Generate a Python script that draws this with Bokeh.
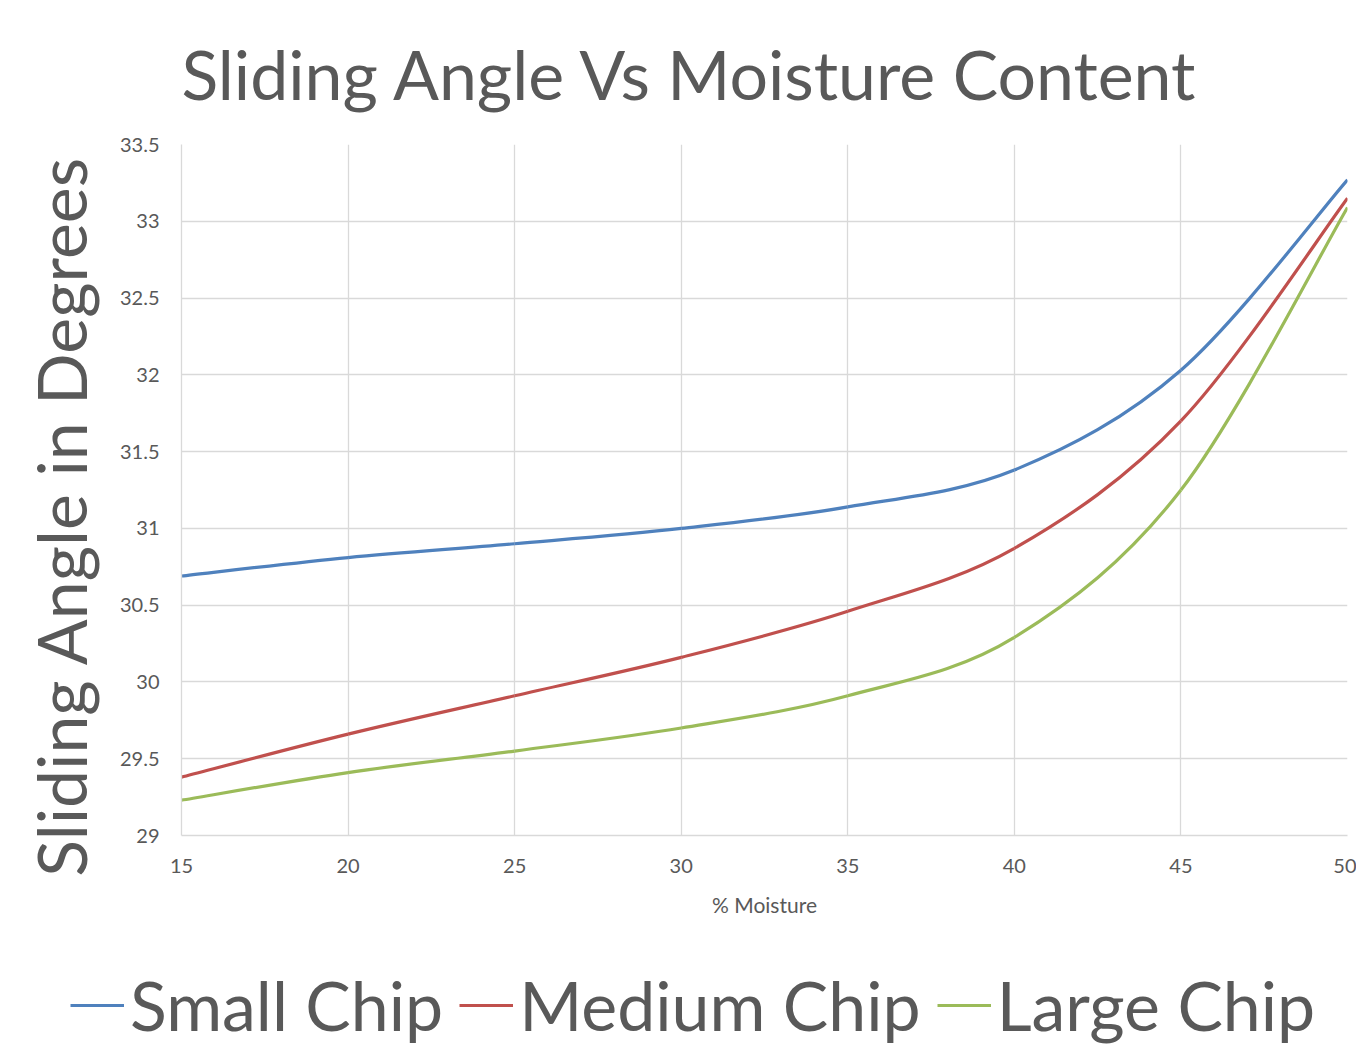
import numpy as np
from bokeh.plotting import figure
from bokeh.layouts import column
from bokeh.models import ColumnDataSource, Legend, LegendItem, Range1d, FixedTicker
from bokeh.embed import file_html
from bokeh.resources import INLINE

# ---- data ----
moisture = [15, 20, 25, 30, 35, 40, 45, 50]
small_chip = [30.69, 30.81, 30.90, 31.00, 31.14, 31.38, 32.03, 33.27]
medium_chip = [29.38, 29.66, 29.91, 30.16, 30.46, 30.87, 31.70, 33.15]
large_chip = [29.23, 29.41, 29.55, 29.70, 29.91, 30.29, 31.25, 33.09]
series_names = ["Small Chip", "Medium Chip", "Large Chip"]
x_ticks = [15, 20, 25, 30, 35, 40, 45, 50]
y_ticks = [29, 29.5, 30, 30.5, 31, 31.5, 32, 32.5, 33, 33.5]
y_tick_labels = ["29", "29.5", "30", "30.5", "31", "31.5", "32", "32.5", "33", "33.5"]

COLORS = ["#4F81BD", "#C0504D", "#9BBB59"]
TEXT = "#595959"
GRID = "#D9D9D9"
FONT = "Lato"


def smooth_source(x, y):
    """Bezier segments through the data points (Excel-style smoothed line)."""
    x = np.asarray(x, float)
    y = np.asarray(y, float)
    n = len(x)
    xp = np.concatenate([[x[0]], x, [x[-1]]])
    yp = np.concatenate([[y[0]], y, [y[-1]]])
    return ColumnDataSource(dict(
        x0=x[:-1], y0=y[:-1], x1=x[1:], y1=y[1:],
        cx0=x[:-1] + (xp[2:n + 1] - xp[0:n - 1]) / 6.0,
        cy0=y[:-1] + (yp[2:n + 1] - yp[0:n - 1]) / 6.0,
        cx1=x[1:] - (xp[3:n + 2] - xp[1:n]) / 6.0,
        cy1=y[1:] - (yp[3:n + 2] - yp[1:n]) / 6.0,
    ))


p = figure(frame_width=1166, frame_height=691, output_backend="svg", toolbar_location=None,
           x_range=Range1d(15, 50), y_range=Range1d(29, 33.5),
           min_border_left=181, min_border_right=9, min_border_top=144,
           min_border_bottom=100)
p.frame_align = False
p.outline_line_color = None
p.background_fill_color = "white"
p.border_fill_color = "white"

p.title.text = "Sliding Angle Vs Moisture Content"
p.title.text_font = FONT
p.title.text_font_size = "68px"
p.title.text_font_style = "normal"
p.title.text_color = TEXT
p.title.align = "left"
p.title.offset = 0
p.title.standoff = 61

p.xaxis.ticker = FixedTicker(ticks=x_ticks)
p.yaxis.ticker = FixedTicker(ticks=y_ticks)
p.yaxis.major_label_overrides = {t: l for t, l in zip(y_ticks, y_tick_labels)}

for ax in (p.xaxis[0], p.yaxis[0]):
    ax.axis_line_color = GRID
    ax.axis_line_width = 1.3
    ax.major_tick_line_color = None
    ax.minor_tick_line_color = None
    ax.major_tick_out = 0
    ax.major_tick_in = 0
    ax.major_label_text_font = FONT
    ax.major_label_text_font_size = "20px"
    ax.major_label_text_color = TEXT
    ax.axis_label_text_font = FONT
    ax.axis_label_text_font_style = "normal"
    ax.axis_label_text_color = TEXT

p.xaxis.axis_label = "% Moisture"
p.xaxis.axis_label_text_font_size = "21px"
p.xaxis.major_label_standoff = 23
p.xaxis.axis_label_standoff = 16

# trailing no-break spaces shift the centred label down to where the reference has it
p.yaxis.axis_label = "Sliding Angle in Degrees\u00a0\u00a0\u00a0"
p.yaxis.axis_label_text_font_size = "68px"
p.yaxis.major_label_standoff = 22
p.yaxis.axis_label_standoff = 16

p.xgrid.grid_line_color = GRID
p.ygrid.grid_line_color = GRID
p.xgrid.grid_line_width = 1.3
p.ygrid.grid_line_width = 1.3

# legend strip: a second figure whose ranges keep its copies of the curves out of view
leg = figure(width=1356, height=1059 - (144 + 691 + 100), output_backend="svg",
             toolbar_location=None, x_range=Range1d(0, 1), y_range=Range1d(0, 1),
             min_border=0)
leg.frame_align = False
leg.axis.visible = False
leg.grid.visible = False
leg.outline_line_color = None
leg.background_fill_color = "white"
leg.border_fill_color = "white"

items = []
for name, vals, col in zip(series_names, [small_chip, medium_chip, large_chip], COLORS):
    src = smooth_source(moisture, vals)
    p.bezier(x0="x0", y0="y0", x1="x1", y1="y1", cx0="cx0", cy0="cy0",
             cx1="cx1", cy1="cy1", source=src, line_color=col, line_width=3.2)
    r = leg.bezier(x0="x0", y0="y0", x1="x1", y1="y1", cx0="cx0", cy0="cy0",
                   cx1="cx1", cy1="cy1", source=src, line_color=col, line_width=3.2)
    items.append(LegendItem(label=name, renderers=[r]))

legend = Legend(items=items, orientation="horizontal", location=(70, 14),
                label_text_font=FONT, label_text_font_size="68px",
                label_text_color=TEXT, glyph_width=54, glyph_height=40,
                label_standoff=6, spacing=16, padding=0, margin=0,
                border_line_color=None, background_fill_alpha=0)
leg.add_layout(legend)

layout = column(p, leg, spacing=0)
open("out.html", "w").write(file_html(layout, INLINE))
